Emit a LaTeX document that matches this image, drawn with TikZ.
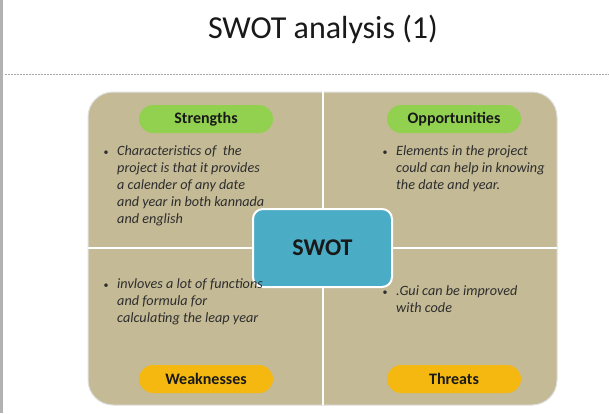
\documentclass[tikz,border=0pt]{standalone}
\usepackage{fontspec}
\setmainfont{Carlito}
\usetikzlibrary{positioning}
\definecolor{quad}{RGB}{196,186,150}
\definecolor{pillgreen}{RGB}{146,208,80}
\definecolor{pillgold}{RGB}{244,184,17}
\definecolor{core}{RGB}{75,172,198}
\definecolor{bodytext}{RGB}{45,45,45}
\tikzset{
  pill/.style={rounded corners=14pt, minimum width=134pt, minimum height=28pt,
    inner sep=0pt, font=\fontsize{16}{18}\selectfont\bfseries, text=black!90},
  item/.style={anchor=north west, inner sep=0pt, align=left, text=bodytext,
    font=\fontsize{14.2}{17}\selectfont\itshape},
  dot/.style={anchor=base, inner sep=0pt, text=bodytext, font=\fontsize{10}{10}\selectfont},
  divider/.style={white, line width=2pt}
}
\newcommand{\firstline}{\rule{0pt}{11pt}}
\begin{document}
\begin{tikzpicture}[x=1pt,y=-1pt]
\useasboundingbox (0,0) rectangle (609,413);
\fill[white] (0,0) rectangle (609,413);
% slide edge and title rule
\fill[black!30] (0,0) rectangle (3,413);
\draw[black!35, line width=0.6pt, dash pattern=on 1.5pt off 1.5pt] (5,74) -- (609,74);
\node[anchor=base, inner sep=0pt, font=\fontsize{32}{36}\selectfont, text=black!90] (title) at (323,38) {SWOT analysis (1)};
% four quadrants
\fill[quad, draw=black!12, line width=1pt, rounded corners=25pt] (88,92) rectangle (557,405);
\draw[divider] (322.5,92) -- (322.5,405);
\draw[divider] (88,248) -- (557,248);
% centre box
\node[draw=white, line width=2pt, fill=core, rounded corners=10pt, minimum width=139pt,
  minimum height=78pt, inner sep=0pt, font=\fontsize{24}{28}\selectfont\bfseries, text=black!90] (swot) at (322.5,248) {SWOT};
% quadrant headings
\node[pill, fill=pillgreen] (s) at (206,119) {Strengths};
\node[pill, fill=pillgreen] (o) at (454,119) {Opportunities};
\node[pill, fill=pillgold] (w) at (206,379) {Weaknesses};
\node[pill, fill=pillgold] (t) at (454,379) {Threats};
% quadrant contents, set over the centre box
\node[dot] (sb) at (106,155) {•};
\node[item] (st) at (117,144) {\firstline Characteristics of\ \ the\\project is that it provides\\a calender of any date\\and year in both kannada\\and english};
\node[dot] (ob) at (385,155) {•};
\node[item] (ot) at (396,144) {\firstline Elements in the project\\could can help in knowing\\the date and year.};
\node[dot] (wb) at (106,288) {•};
\node[item] (wt) at (117,277) {\firstline invloves a lot of functions\\and formula for\\calculating the leap year};
\node[dot] (tb) at (385,295) {•};
\node[item] (tt) at (396,284) {\firstline .Gui can be improved\\with code};
\end{tikzpicture}
\end{document}
